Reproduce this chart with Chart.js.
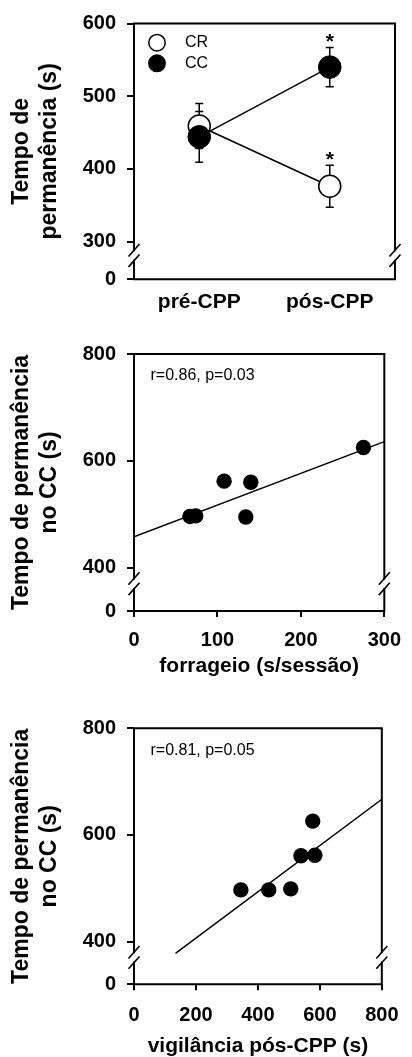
<!DOCTYPE html>
<html lang="pt">
<head>
<meta charset="UTF-8">
<title>Tempo de permanência</title>
<script src="https://cdn.jsdelivr.net/npm/chart.js"></script>
<style>
  body { margin: 0; background: #fff; }
  canvas { position: absolute; left: 0; }
</style>
</head>
<body>
<canvas id="c1" width="412" height="330" style="top:0"></canvas>
<canvas id="c2" width="412" height="360" style="top:330px"></canvas>
<canvas id="c3" width="412" height="367" style="top:690px"></canvas>
<script>
// painel A: média ± EPM
const fases = ['pré-CPP', 'pós-CPP'];
const grupos = ['CR', 'CC'];
const crMedia = [459, 376];
const crEpm = [31, 29];
const ccMedia = [444, 540];
const ccEpm = [35, 27];
const signif = ['', '*'];
const yTicksA = [0, 300, 400, 500, 600];

// painel B: forrageio x tempo no CC
const forrageio = [67, 74, 108, 140, 134, 275];
const tempoB = [496, 497, 562, 560, 495, 625];
const retaBx = [0, 300];
const retaBy = [458, 636];
const xTicksB = [0, 100, 200, 300];
const yTicksB = [0, 400, 600, 800];
const textoB = 'r=0.86, p=0.03';

// painel C: vigilância x tempo no CC
const vigilancia = [345, 435, 506, 539, 584, 577];
const tempoC = [497, 497, 499, 561, 562, 626];
const retaCx = [134, 800];
const retaCy = [378, 667];
const xTicksC = [0, 200, 400, 600, 800];
const yTicksC = [0, 400, 600, 800];
const textoC = 'r=0.81, p=0.05';

const FONTE = '"Liberation Sans", Arial, sans-serif';
Chart.defaults.font.family = FONTE;
Chart.defaults.color = '#000';
Chart.defaults.animation = false;
Chart.defaults.plugins.legend.display = false;
Chart.defaults.plugins.tooltip.enabled = false;

// caixa com quebra no eixo y
const moldura = {
    id: 'moldura',
    afterDatasetsDraw(chart, args, opts) {
        const { ctx, chartArea: a, scales: { y } } = chart;
        const p = y.getPixelForValue(opts.corte);
        const meio = p + (a.bottom - p) * 0.37;
        const s1 = meio - 5.2, s2 = meio + 5.2;
        ctx.save();
        ctx.strokeStyle = '#000';
        ctx.lineWidth = 2;
        ctx.lineCap = 'square';
        ctx.beginPath();
        ctx.moveTo(a.left, a.bottom); ctx.lineTo(a.right, a.bottom);
        ctx.moveTo(a.left, a.top); ctx.lineTo(a.right, a.top);
        [a.left, a.right].forEach(x => {
            ctx.moveTo(x, a.top); ctx.lineTo(x, s1);
            ctx.moveTo(x, s2); ctx.lineTo(x, a.bottom);
        });
        ctx.stroke();
        ctx.lineCap = 'butt';
        ctx.lineWidth = 1.6;
        ctx.beginPath();
        [a.left, a.right].forEach(x => {
            [s1, s2].forEach(s => {
                ctx.moveTo(x - 5.5, s + 6.2); ctx.lineTo(x + 5.5, s - 6.2);
            });
        });
        ctx.stroke();
        ctx.restore();
    }
};

// texto de correlação
const nota = {
    id: 'nota',
    afterDraw(chart, args, opts) {
        if (!opts.texto) return;
        const { ctx, chartArea: a } = chart;
        ctx.save();
        ctx.font = '16px ' + FONTE;
        ctx.fillStyle = '#000';
        ctx.textBaseline = 'middle';
        ctx.fillText(opts.texto, a.left + 16.5, a.top + 22);
        ctx.restore();
    }
};

function eixoY(min, max, ticks, titulo) {
    return {
        min: min, max: max,
        afterFit: s => { s.width = 134; },
        afterBuildTicks: s => { s.ticks = ticks.map(v => ({ value: v === 0 ? min : v })); },
        ticks: { callback: (v, i) => ticks[i], font: { size: 20, weight: 'bold' }, padding: 11, autoSkip: false },
        grid: { drawOnChartArea: false, color: '#000', lineWidth: 2, tickLength: 7 },
        border: { display: false },
        title: { display: true, text: titulo, font: { size: 23, weight: 'bold', lineHeight: 1.22 }, padding: { top: 8, bottom: 0 } }
    };
}

function eixoX(max, ticks, titulo, altura, padTicks, padTitulo) {
    return {
        type: 'linear', min: 0, max: max,
        afterFit: s => { s.height = altura; },
        afterBuildTicks: s => { s.ticks = ticks.map(v => ({ value: v })); },
        ticks: { font: { size: 20, weight: 'bold' }, padding: padTicks, autoSkip: false, maxRotation: 0 },
        grid: { drawOnChartArea: false, color: '#000', lineWidth: 2, tickLength: 6 },
        border: { display: false },
        title: { display: true, text: titulo, font: { size: 21, weight: 'bold', lineHeight: 1 }, padding: { top: 0, bottom: padTitulo } }
    };
}

// ---- painel A ----
const barras = [
    { media: crMedia, epm: crEpm },
    { media: ccMedia, epm: ccEpm }
];

const erros = {
    id: 'erros',
    beforeDatasetsDraw(chart) {
        const { ctx, scales: { x, y } } = chart;
        ctx.save();
        ctx.strokeStyle = '#000';
        ctx.lineWidth = 1.5;
        ctx.beginPath();
        barras.forEach(b => b.media.forEach((m, i) => {
            const px = x.getPixelForValue(i);
            const t = y.getPixelForValue(m + b.epm[i]);
            const d = y.getPixelForValue(m - b.epm[i]);
            ctx.moveTo(px, t); ctx.lineTo(px, d);
            ctx.moveTo(px - 4, t); ctx.lineTo(px + 4, t);
            ctx.moveTo(px - 4, d); ctx.lineTo(px + 4, d);
        }));
        ctx.stroke();
        ctx.restore();
    },
    afterDatasetsDraw(chart) {
        const { ctx, scales: { x, y } } = chart;
        ctx.save();
        ctx.font = 'bold 21px ' + FONTE;
        ctx.fillStyle = '#000';
        ctx.textAlign = 'center';
        ctx.textBaseline = 'middle';
        barras.forEach(b => b.media.forEach((m, i) => {
            if (!signif[i]) return;
            const t = y.getPixelForValue(m + b.epm[i]);
            ctx.fillText(signif[i], x.getPixelForValue(i), t - 5.5);
        }));
        ctx.restore();
    }
};

const legenda = {
    id: 'legenda',
    afterDraw(chart) {
        const { ctx, chartArea: a } = chart;
        const cores = ['#fff', '#000'];
        ctx.save();
        ctx.font = '16px ' + FONTE;
        ctx.textBaseline = 'middle';
        grupos.forEach((g, i) => {
            const cy = a.top + 19.2 + i * 20.6;
            ctx.beginPath();
            ctx.arc(a.left + 23, cy, 8.2, 0, Math.PI * 2);
            ctx.fillStyle = cores[i];
            ctx.fill();
            ctx.lineWidth = 1.5;
            ctx.strokeStyle = '#000';
            ctx.stroke();
            ctx.fillStyle = '#000';
            ctx.fillText(g, a.left + 51, cy);
        });
        ctx.restore();
    }
};

new Chart(document.getElementById('c1'), {
    type: 'scatter',
    data: {
        datasets: [
            {
                label: grupos[0], order: 1, showLine: true,
                data: crMedia.map((v, i) => ({ x: i, y: v })),
                borderColor: '#000', borderWidth: 1.5,
                pointRadius: 11, pointBackgroundColor: '#fff', pointBorderColor: '#000', pointBorderWidth: 1.5
            },
            {
                label: grupos[1], order: 0, showLine: true,
                data: ccMedia.map((v, i) => ({ x: i, y: v })),
                borderColor: '#000', borderWidth: 1.5,
                pointRadius: 11.3, pointBackgroundColor: '#000', pointBorderColor: '#000', pointBorderWidth: 1
            }
        ]
    },
    options: {
        responsive: false,
        layout: { padding: { left: 0, right: 17, top: 23.5, bottom: 0 } },
        scales: {
            x: {
                type: 'linear', min: -0.5, max: 1.5,
                afterFit: s => { s.height = 50.7; },
                afterBuildTicks: s => { s.ticks = fases.map((f, i) => ({ value: i })); },
                ticks: { callback: (v, i) => fases[i], font: { size: 21, weight: 'bold' }, padding: 10.5, autoSkip: false, maxRotation: 0 },
                grid: { display: false, drawTicks: false },
                border: { display: false }
            },
            y: eixoY(248, 600, yTicksA, ['Tempo de', 'permanência (s)'])
        },
        plugins: { moldura: { corte: 300 } }
    },
    plugins: [erros, moldura, legenda]
});

// ---- painéis B e C ----
function dispersao(id, xs, ys, rx, ry, eixoXcfg, yMin, yTicks, texto) {
    new Chart(document.getElementById(id), {
        type: 'scatter',
        data: {
            datasets: [
                {
                    order: 0,
                    data: xs.map((v, i) => ({ x: v, y: ys[i] })),
                    pointRadius: 7.7, pointBackgroundColor: '#000', pointBorderColor: '#000', pointBorderWidth: 0
                },
                {
                    order: 1, showLine: true,
                    data: rx.map((v, i) => ({ x: v, y: ry[i] })),
                    borderColor: '#000', borderWidth: 1.5, pointRadius: 0
                }
            ]
        },
        options: {
            responsive: false,
            layout: { padding: eixoXcfg.pad },
            scales: {
                x: eixoXcfg.x,
                y: eixoY(yMin, 800, yTicks, ['Tempo de permanência', 'no CC (s)'])
            },
            plugins: { moldura: { corte: 400 }, nota: { texto: texto } }
        },
        plugins: [moldura, nota]
    });
}

dispersao('c2', forrageio, tempoB, retaBx, retaBy,
    { pad: { left: 0, right: 18, top: 24, bottom: 0 }, x: eixoX(300, xTicksB, 'forrageio (s/sessão)', 79, 11, 12.8) },
    319, yTicksB, textoB);

dispersao('c3', vigilancia, tempoC, retaCx, retaCy,
    { pad: { left: 0, right: 19.3, top: 38.3, bottom: 0 }, x: eixoX(800, xTicksC, 'vigilância pós-CPP (s)', 72.7, 13.5, 0) },
    320, yTicksC, textoC);
</script>
</body>
</html>
